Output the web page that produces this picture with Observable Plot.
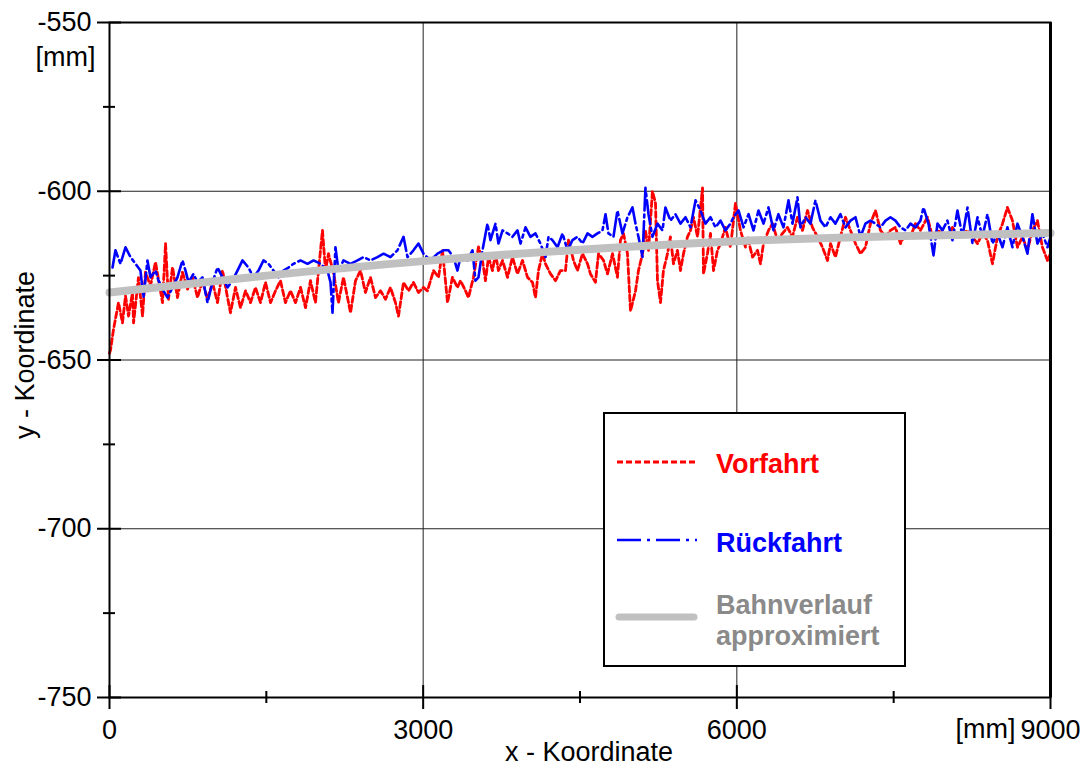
<!DOCTYPE html>
<html>
<head>
<meta charset="utf-8">
<script src="https://cdn.jsdelivr.net/npm/d3@7"></script>
<script src="https://cdn.jsdelivr.net/npm/@observablehq/plot@0.6"></script>
<style>
  html, body { margin: 0; padding: 0; background: #fff; }
  #wrap { position: relative; width: 1087px; height: 767px; font-family: "Liberation Sans", Arial, sans-serif; }
  #legend { position: absolute; left: 603px; top: 412px; width: 299px; height: 251px; border: 2px solid #000; background: #fff; }
  #legend svg { display: block; font-family: "Liberation Sans", Arial, sans-serif; font-weight: bold; font-size: 27px; }
</style>
</head>
<body>
<div id="wrap"></div>
<script>
// Measured trajectory, forward run: [x mm, y mm]
const vorfahrt = [
  [0,-648],[10,-647],[38,-641],[86,-633],[124,-639],[153,-631],[182,-637],[220,-630],[230,-639],
  [277,-625.6],[316,-637],[344,-624],[392,-628],[440,-621],[507,-633],[536,-615.5],[564,-632],
  [603,-622.5],[650,-631.5],[698,-624],[746,-629],[794,-625.5],[842,-631.5],[889,-626.5],[937,-632],
  [985,-627],[1033,-633],[1081,-623.5],[1129,-631.5],[1157,-636],[1205,-628.5],[1253,-634.5],
  [1301,-629.5],[1349,-633],[1396,-628.5],[1444,-633],[1492,-627],[1540,-633],[1588,-629.5],
  [1635,-626.5],[1683,-633],[1731,-629.5],[1779,-633],[1827,-628.5],[1875,-634.5],[1922,-626.5],
  [1970,-633],[1999,-623.5],[2037,-611.6],[2066,-623.5],[2094,-618.5],[2142,-624],[2190,-633],
  [2238,-625.5],[2305,-636],[2353,-626.5],[2401,-623.5],[2448,-630],[2496,-625.5],[2544,-631.5],
  [2592,-629.5],[2640,-632],[2687,-628.5],[2735,-633],[2764,-637],[2812,-627],[2860,-629.5],
  [2907,-627],[2955,-630],[3003,-628.5],[3041,-629.5],[3099,-623.5],[3147,-625.5],[3185,-617.5],
  [3213,-626.5],[3233,-633],[3280,-625.5],[3328,-628.5],[3357,-626.5],[3405,-629.5],[3433,-631.5],
  [3481,-625.5],[3529,-616.5],[3567,-620.5],[3596,-626.5],[3625,-619.5],[3663,-623.5],[3692,-618.5],
  [3720,-623.5],[3759,-620.5],[3807,-625.5],[3854,-619.5],[3902,-624.5],[3950,-620.5],[3998,-625.5],
  [4046,-627],[4074,-631.5],[4103,-623.5],[4141,-618.5],[4170,-621.5],[4218,-624.5],[4266,-626.5],
  [4313,-623.5],[4361,-623.5],[4390,-614.5],[4438,-620.5],[4476,-623.5],[4524,-618.5],[4572,-621.5],
  [4600,-624.5],[4648,-627],[4677,-618.5],[4725,-620.5],[4763,-624.5],[4811,-618.5],[4858,-625.5],
  [4887,-614.5],[4916,-612.5],[4954,-618.5],[4983,-635.5],[5031,-629.5],[5059,-623.5],[5098,-618.5],
  [5126,-611.6],[5155,-617.5],[5193,-600],[5222,-603.5],[5241,-626.5],[5270,-633],[5298,-623.5],
  [5337,-618.5],[5365,-613.5],[5394,-621.5],[5432,-617.5],[5461,-623.5],[5490,-618.5],[5528,-613.5],
  [5557,-611.6],[5585,-607.7],[5624,-613.5],[5672,-599],[5681,-624.5],[5719,-618.5],[5748,-612.5],
  [5777,-623.5],[5815,-617.5],[5844,-615.5],[5891,-610.7],[5939,-616.6],[5987,-603.6],[6035,-611.6],
  [6083,-616.6],[6102,-613.5],[6150,-619.5],[6198,-617.5],[6226,-621.5],[6255,-615.5],[6303,-611.6],
  [6341,-609.6],[6389,-614.5],[6437,-612.5],[6484,-610.7],[6532,-613.5],[6580,-607.7],[6628,-611.6],
  [6676,-605.7],[6723,-610.7],[6771,-613.5],[6819,-616.6],[6867,-620.5],[6896,-615.5],[6943,-619.5],
  [6991,-613.5],[7039,-607.7],[7087,-611.6],[7135,-615.5],[7183,-618.5],[7230,-616.6],[7278,-609.6],
  [7326,-605.7],[7374,-611.6],[7422,-613.5],[7469,-611.6],[7517,-610.7],[7565,-615.5],[7613,-612.5],
  [7661,-613.5],[7708,-609.6],[7756,-611.6],[7823,-607.7],[7871,-613.5],[7919,-611.6],[7967,-612.5],
  [8014,-613.5],[8062,-610.7],[8110,-613.5],[8158,-612.5],[8206,-611.6],[8254,-613.5],[8302,-615.5],
  [8349,-612.5],[8397,-614.5],[8445,-621.5],[8493,-613.5],[8541,-609.6],[8588,-604.8],[8636,-608.7],
  [8684,-616.6],[8732,-613.5],[8780,-617.5],[8827,-611.6],[8875,-608.7],[8923,-616.6],[8971,-620.5],
  [9000,-618.5]
];

// Measured trajectory, return run: [x mm, y mm]
const rueckfahrt = [
  [29,-622.6],[57,-617.5],[105,-621.5],[153,-616.6],[201,-619.5],[249,-621.5],[296,-623.5],[325,-631.5],
  [363,-620.5],[392,-625.5],[440,-623.5],[469,-626.5],[516,-629.5],[555,-631.5],[603,-628.5],[650,-625.5],
  [698,-620.5],[727,-623.5],[756,-627],[803,-624.5],[842,-627],[889,-625.5],[937,-633],[985,-627],
  [1033,-622.6],[1081,-625.5],[1129,-628.5],[1176,-626.5],[1224,-623.5],[1272,-620.5],[1329,-622.6],
  [1377,-625.5],[1425,-623.5],[1473,-620.5],[1521,-621.5],[1568,-623.5],[1616,-625.5],[1664,-623.5],
  [1712,-622.6],[1760,-621.5],[1827,-620.5],[1894,-621.5],[1951,-620.5],[2018,-621.5],[2085,-623.5],
  [2114,-627],[2133,-636],[2161,-616.6],[2190,-623.5],[2238,-620.5],[2305,-621.5],[2372,-620.5],
  [2429,-619.5],[2496,-620.5],[2563,-619.5],[2621,-618.5],[2687,-619.5],[2754,-617.5],[2812,-613.5],
  [2850,-619.5],[2907,-617.5],[2955,-615.5],[3003,-618.5],[3070,-620.5],[3137,-618.5],[3194,-617.5],
  [3242,-617.5],[3290,-619.5],[3328,-623.5],[3357,-619.5],[3424,-620.5],[3472,-617.5],[3500,-626.5],
  [3529,-625.5],[3567,-617.5],[3615,-609.6],[3644,-614.5],[3692,-609.6],[3720,-615.5],[3759,-611.6],
  [3807,-612.5],[3854,-613.5],[3902,-611.6],[3931,-615.5],[3979,-610.7],[4026,-613.5],[4074,-612.5],
  [4122,-615.5],[4170,-619.5],[4199,-613.5],[4237,-614.5],[4285,-616.6],[4333,-612.5],[4380,-617.5],
  [4428,-614.5],[4476,-613.5],[4524,-615.5],[4572,-612.5],[4619,-613.5],[4667,-612.5],[4715,-611.6],
  [4744,-606.8],[4772,-612.5],[4820,-613.5],[4858,-605.7],[4906,-612.5],[4954,-607.7],[5002,-604.8],
  [5031,-609.6],[5059,-613.5],[5098,-619.5],[5126,-599],[5155,-606.8],[5193,-613.5],[5241,-609.6],
  [5289,-611.6],[5317,-604.8],[5365,-608.7],[5413,-606.8],[5461,-609.6],[5509,-607.7],[5557,-610.7],
  [5605,-602.7],[5652,-605.7],[5700,-609.6],[5748,-607.7],[5796,-610.7],[5844,-608.7],[5891,-611.6],
  [5939,-609.6],[5968,-607.7],[6016,-605.7],[6064,-610.7],[6112,-606.8],[6159,-611.6],[6207,-605.7],
  [6255,-609.6],[6303,-604.8],[6351,-611.6],[6398,-606.8],[6446,-610.7],[6494,-602.7],[6532,-609.6],
  [6580,-601.8],[6609,-610.7],[6657,-607.7],[6704,-609.6],[6752,-602.7],[6800,-608.7],[6848,-610.7],
  [6896,-607.7],[6943,-609.6],[6991,-606.8],[7039,-610.7],[7087,-608.7],[7135,-607.7],[7183,-613.5],
  [7230,-609.6],[7278,-608.7],[7326,-609.6],[7374,-610.7],[7422,-608.7],[7469,-607.7],[7517,-608.7],
  [7565,-610.7],[7613,-611.6],[7661,-609.6],[7708,-610.7],[7756,-608.7],[7785,-604.8],[7833,-609.6],
  [7881,-619],[7919,-609.6],[7967,-611.6],[8014,-608.7],[8062,-614.5],[8110,-605.7],[8158,-613.5],
  [8206,-604.8],[8254,-615.5],[8302,-607.7],[8349,-613.5],[8397,-606.8],[8445,-615.5],[8493,-612.5],
  [8541,-616.6],[8588,-610.7],[8636,-616.6],[8684,-609.6],[8732,-613.5],[8780,-618.5],[8827,-606.8],
  [8875,-615.5],[8923,-612.5],[8971,-616.6],[9000,-613.5]
];

// Approximated path
const bahnverlauf = [
  [0,-630],[1500,-625],[3000,-620.7],[4500,-617.3],[6000,-614.8],[7500,-613.3],[9000,-612.4]
];

// Axis ticks
const xMajor = [0, 3000, 6000, 9000];
const xMinor = [1500, 4500, 7500];
const yMajor = [-550, -600, -650, -700, -750];
const yMinor = [-575, -625, -675, -725];
const xGrid = [3000, 6000];
const yGrid = [-600, -650, -700];

const FONT = "'Liberation Sans', Arial, sans-serif";
const FS = 27;
const xMin = 0, xMax = 9000, yMin = -750, yMax = -550;

const chart = Plot.plot({
  width: 1087,
  height: 767,
  marginLeft: 109,
  marginRight: 37,
  marginTop: 22,
  marginBottom: 70,
  style: { fontFamily: FONT, fontSize: FS + "px", color: "#000", background: "#fff", overflow: "visible" },
  x: { domain: [xMin, xMax] },
  y: { domain: [yMin, yMax] },
  marks: [
    // grid
    Plot.ruleX(xGrid, { stroke: "#222", strokeWidth: 1 }),
    Plot.ruleY(yGrid, { stroke: "#222", strokeWidth: 1 }),
    // data
    Plot.line(vorfahrt, { x: d => d[0], y: d => d[1], stroke: "#ff0000", strokeWidth: 2.8, strokeDasharray: "6,3", strokeLinejoin: "round" }),
    Plot.line(rueckfahrt, { x: d => d[0], y: d => d[1], stroke: "#0000ff", strokeWidth: 2.6, strokeDasharray: "24,4,3,4", strokeLinejoin: "round" }),
    Plot.line(bahnverlauf, { x: d => d[0], y: d => d[1], stroke: "#c0c0c0", strokeWidth: 8, curve: "monotone-x", strokeLinecap: "round" }),
    // frame
    Plot.frame({ stroke: "#000", strokeWidth: 2 }),
    Plot.ruleX([xMax], { stroke: "#000", strokeWidth: 3 }),
    // ticks crossing the axes
    Plot.ruleX(xMajor, { y1: yMin, y2: yMin, insetTop: -12, insetBottom: -12, stroke: "#000", strokeWidth: 2 }),
    Plot.ruleX(xMinor, { y1: yMin, y2: yMin, insetTop: -6, insetBottom: -6, stroke: "#000", strokeWidth: 2 }),
    Plot.ruleY(yMajor, { x1: xMin, x2: xMin, insetLeft: -12, insetRight: -12, stroke: "#000", strokeWidth: 2 }),
    Plot.ruleY(yMinor, { x1: xMin, x2: xMin, insetLeft: -6, insetRight: -6, stroke: "#000", strokeWidth: 2 }),
    // tick labels
    Plot.axisX({ ticks: xMajor, tickSize: 0, tickPadding: 22, tickFormat: d => String(d), label: null, fontSize: FS }),
    Plot.axisY({ ticks: yMajor, tickSize: 0, tickPadding: 18, tickFormat: d => String(d), label: null, fontSize: FS }),
    // units and axis titles
    Plot.text(["[mm]"], { frameAnchor: "top-left", dx: -14, dy: 35, textAnchor: "end", lineAnchor: "middle", fontSize: FS }),
    Plot.text(["[mm]"], { frameAnchor: "bottom-right", dx: -35, dy: 32, textAnchor: "end", lineAnchor: "middle", fontSize: FS }),
    Plot.text(["x - Koordinate"], { frameAnchor: "bottom", dx: 9, dy: 55, lineAnchor: "middle", fontSize: FS }),
    Plot.text(["y - Koordinate"], { frameAnchor: "left", dx: -84, dy: -5, rotate: -90, textAnchor: "middle", lineAnchor: "middle", fontSize: FS })
  ]
});

const wrap = document.getElementById("wrap");
wrap.appendChild(chart);

// legend box
const legend = document.createElement("div");
legend.id = "legend";
legend.innerHTML = `
<svg width="299" height="251">
  <line x1="12" x2="92" y1="48" y2="48" stroke="#ff0000" stroke-width="2.8" stroke-dasharray="6,3"/>
  <text x="111" y="59" fill="#ff0000">Vorfahrt</text>
  <line x1="12" x2="92" y1="126" y2="126" stroke="#0000ff" stroke-width="2.6" stroke-dasharray="24,6,3,6"/>
  <text x="111" y="138" fill="#0000ff">Rückfahrt</text>
  <line x1="14" x2="89" y1="203" y2="203" stroke="#c0c0c0" stroke-width="7" stroke-linecap="round"/>
  <text x="111" y="200" fill="#8a8a8a">Bahnverlauf</text>
  <text x="111" y="231" fill="#8a8a8a">approximiert</text>
</svg>`;
wrap.appendChild(legend);
</script>
</body>
</html>
